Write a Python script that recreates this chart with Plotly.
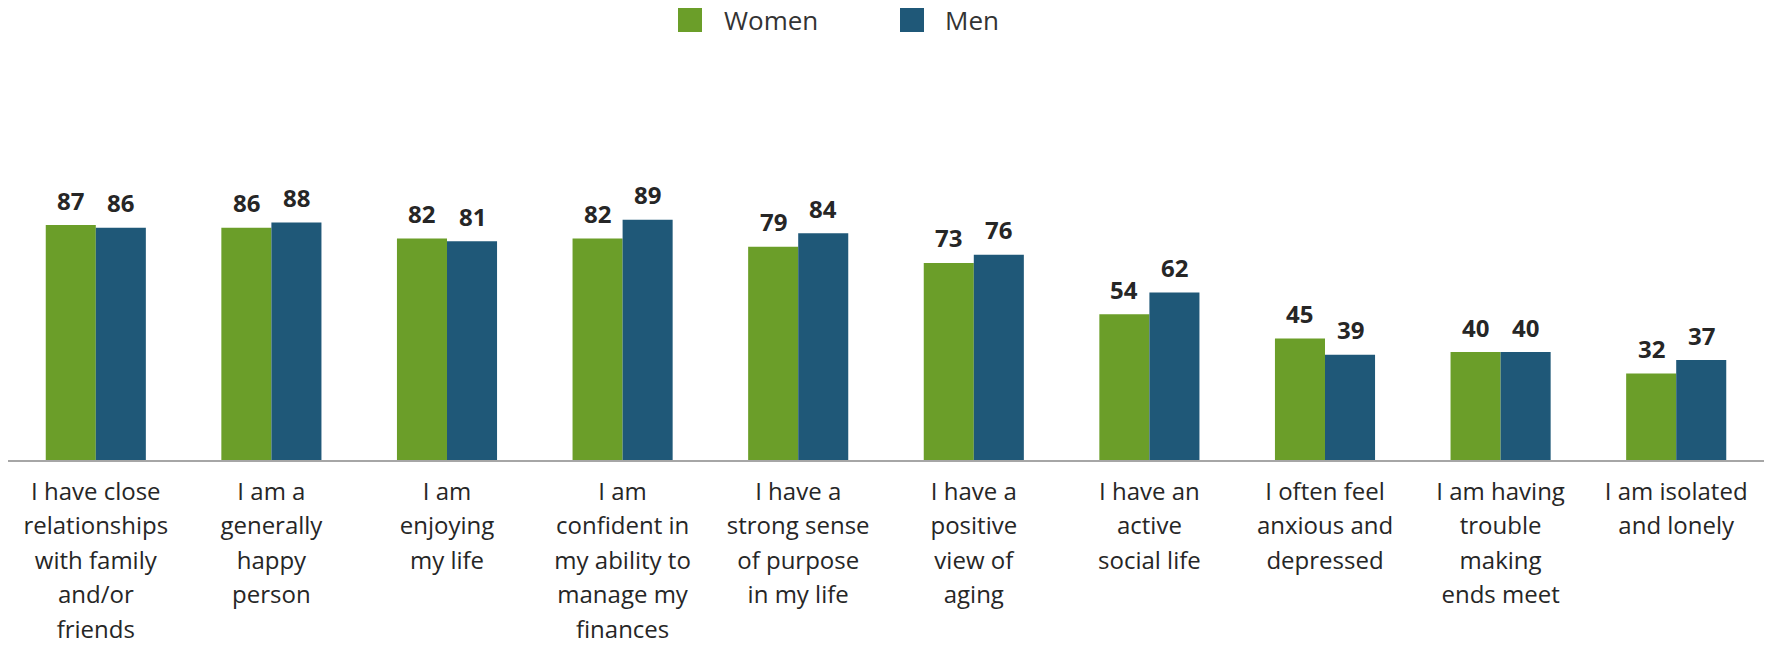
import plotly.graph_objects as go

categories = [
    "I have close<br>relationships<br>with family<br>and/or<br>friends",
    "I am a<br>generally<br>happy<br>person",
    "I am<br>enjoying<br>my life",
    "I am<br>confident in<br>my ability to<br>manage my<br>finances",
    "I have a<br>strong sense<br>of purpose<br>in my life",
    "I have a<br>positive<br>view of<br>aging",
    "I have an<br>active<br>social life",
    "I often feel<br>anxious and<br>depressed",
    "I am having<br>trouble<br>making<br>ends meet",
    "I am isolated<br>and lonely",
]
women = [87, 86, 82, 82, 79, 73, 54, 45, 40, 32]
men = [86, 88, 81, 89, 84, 76, 62, 39, 40, 37]
series_names = ["Women", "Men"]
colors = ["#6B9E29", "#1F5878"]

W, H = 1769, 645
ml, mr, mt, mb = 8, 5, 190, 185
bargap = 0.43
bar_w = (1 - bargap) / 2
idx = list(range(len(categories)))

# wrap each line in a span so glyphs are 24px while line spacing follows a 26.5px base
tick_text = ["<br>".join("<span style='font-size:24px'>%s</span>" % ln for ln in c.split("<br>"))
             for c in categories]

fig = go.Figure()
for name, vals, col in zip(series_names, [women, men], colors):
    fig.add_trace(go.Bar(
        x=idx, y=vals, name=name, marker=dict(color=col, line=dict(width=0)),
        showlegend=False, hoverinfo="x+y",
    ))

annotations = []
for s, vals in enumerate([women, men]):
    off = (s - 0.5) * bar_w
    for i, v in enumerate(vals):
        annotations.append(dict(
            x=i + off, y=v, xref="x", yref="y", text=str(v), showarrow=False,
            yanchor="middle", xanchor="center", yshift=25,
            font=dict(family="Open Sans", size=24, color="#262626", weight="bold"),
        ))

# manual legend (paper coordinates)
plot_w = W - ml - mr
plot_h = H - mt - mb
def px_to_paper_x(px):
    return (px - ml) / plot_w
def px_to_paper_y(py):
    return (H - mb - py) / plot_h

legend_items = [(678, 722), (900, 943)]
shapes = []
for (sx, tx), name, col in zip(legend_items, series_names, colors):
    shapes.append(dict(type="rect", xref="paper", yref="paper",
                       x0=px_to_paper_x(sx), x1=px_to_paper_x(sx + 24),
                       y0=px_to_paper_y(32), y1=px_to_paper_y(8),
                       fillcolor=col, line=dict(width=0)))
    annotations.append(dict(x=px_to_paper_x(tx), y=px_to_paper_y(20), xref="paper", yref="paper",
                            text=name, showarrow=False, xanchor="left", yanchor="middle",
                            font=dict(family="Open Sans", size=26, color="#333333")))

fig.update_layout(
    width=W, height=H,
    margin=dict(l=ml, r=mr, t=mt, b=mb),
    barmode="group", bargap=bargap, bargroupgap=0,
    plot_bgcolor="white", paper_bgcolor="white",
    font=dict(family="Open Sans", color="#262626"),
    annotations=annotations, shapes=shapes,
    showlegend=False,
)
fig.update_xaxes(
    tickvals=idx, ticktext=tick_text, range=[-0.5, len(categories) - 0.5],
    showline=True, linecolor="#A6A6A6", linewidth=2, ticks="", showgrid=False,
    tickfont=dict(family="Open Sans", size=26.5, color="#262626"),
    ticklabelstandoff=6, zeroline=False, automargin=False,
)
fig.update_yaxes(range=[0, 100], visible=False, showgrid=False, zeroline=False, automargin=False)

fig.write_html("out.html")
